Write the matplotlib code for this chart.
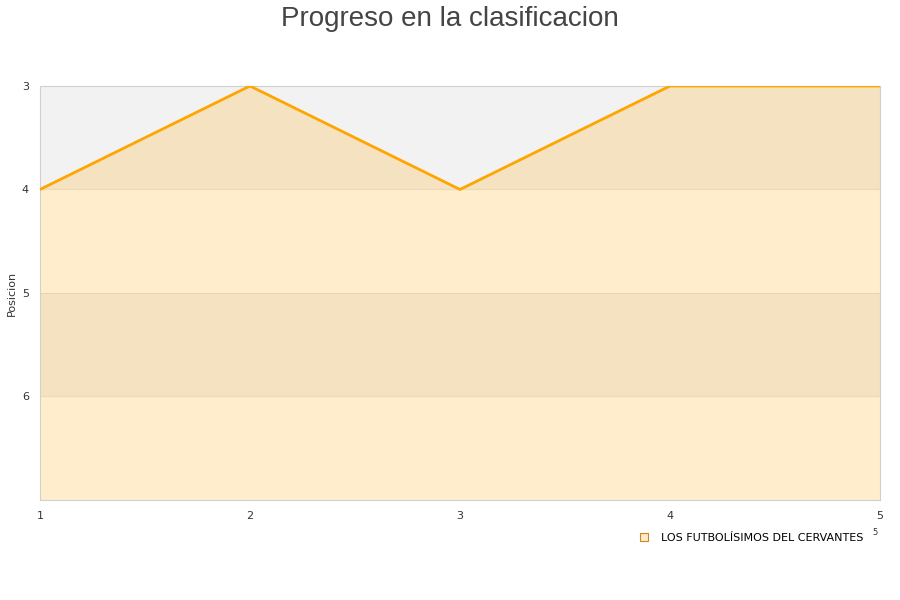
import matplotlib.pyplot as plt
from matplotlib.lines import Line2D

jornadas = [1, 2, 3, 4, 5]
posiciones = [4, 3, 4, 3, 3]
equipo = 'LOS FUTBOLÍSIMOS DEL CERVANTES'
y_ticks = [3, 4, 5, 6]
y_min, y_max = 3, 7

fig = plt.figure(figsize=(9, 6), dpi=100)
ax = fig.add_axes([0.0444, 0.1667, 0.9334, 0.69])

# alternating background bands
for i, lo in enumerate(range(y_min, y_max)):
    col = '#f2f2f2' if i % 2 == 0 else '#ffffff'
    ax.axhspan(lo, lo + 1, color=col, zorder=0, lw=0)
for y in y_ticks[1:]:
    ax.axhline(y, color='#d8d8d8', lw=0.8, alpha=0.6, zorder=1)

ax.fill_between(jornadas, posiciones, y_max, color='#ffa500', alpha=0.2, lw=0, zorder=2)
ax.plot(jornadas, posiciones, color='#ffa500', lw=2, zorder=3)

ax.set_xlim(1, 5)
ax.set_ylim(y_max, y_min)
ax.set_yticks(y_ticks)
ax.set_xticks(jornadas)
ax.tick_params(length=0, labelsize=8, colors='#333333', pad=8)
for s in ax.spines.values():
    s.set_color('#d0d0d0')
ax.set_ylabel('Posicion', fontsize=8, color='#333333')
ax.yaxis.set_label_coords(-0.028, 0.5)

fig.text(0.5, 0.99, 'Progreso en la clasificacion', ha='center', va='top',
         fontsize=20, color='#444444', family='Liberation Sans')

handle = Line2D([], [], marker='s', ls='', markersize=6,
                markerfacecolor='#ffeacc', markeredgecolor='#c88a20', markeredgewidth=0.8)
fig.legend([handle], [equipo], loc='center right', bbox_to_anchor=(0.97, 0.103),
           frameon=False, fontsize=8, handletextpad=0.5)
fig.text(0.972, 0.113, '5', fontsize=6, color='#333333', ha='center', va='center')

fig.savefig('out.png')
